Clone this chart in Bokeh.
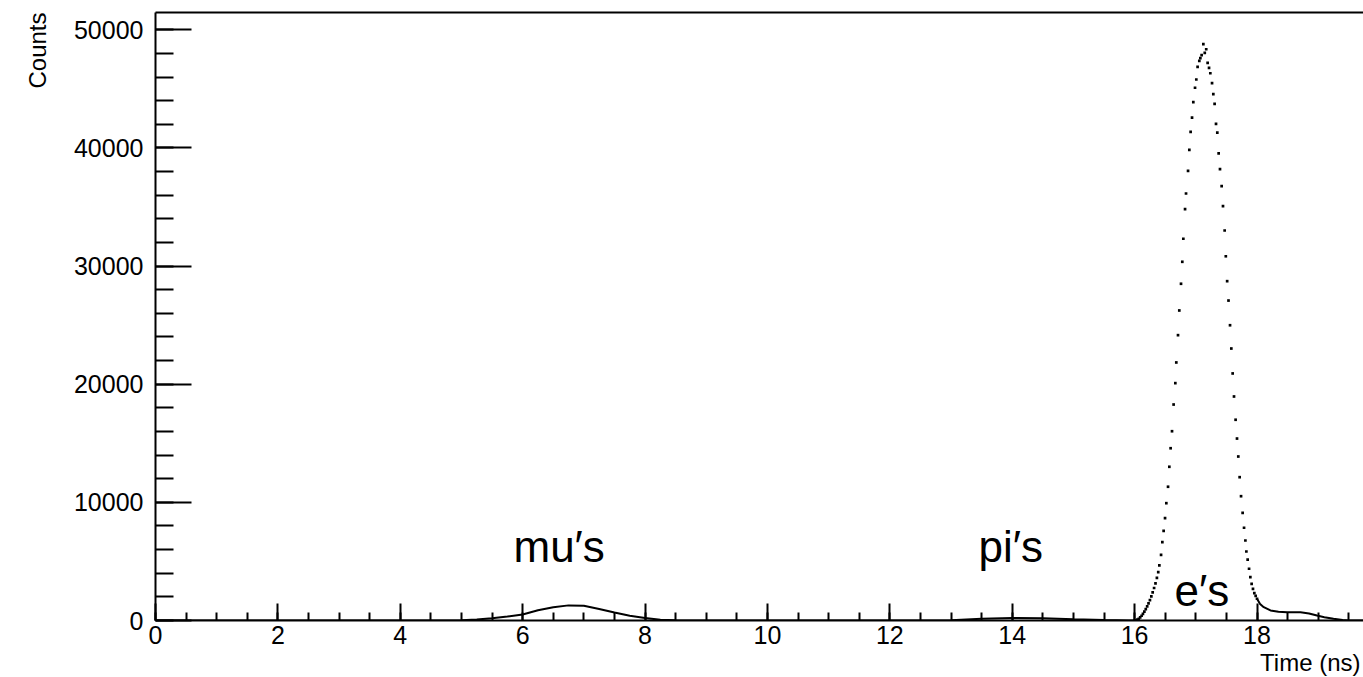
from bokeh.plotting import figure
from bokeh.models import Range1d, SingleIntervalTicker, LinearAxis, FixedTicker, Label, BasicTickFormatter, Title
from bokeh.embed import file_html
from bokeh.resources import INLINE

# ---- data ----
# low-count part (mu's and pi's bumps), 0 .. 16 ns
base_time = [0.0, 4.5, 5.0, 5.25, 5.5, 5.75, 6.0, 6.25, 6.5, 6.75, 7.0, 7.25, 7.5, 7.75,
             8.0, 8.25, 8.5, 8.75, 9.0, 12.5, 13.0, 13.5, 14.0, 14.5, 15.0, 15.5, 15.9, 16.0]
base_counts = [0, 0, 20, 90, 195, 330, 510, 870, 1130, 1280, 1240, 980, 670, 410,
               220, 70, 30, 10, 0, 0, 30, 140, 220, 190, 110, 40, 5, 0]

# electron peak bins (dots)
e_time = [16.000, 16.023, 16.045, 16.068, 16.091, 16.114, 16.136, 16.159, 16.182, 16.205,
          16.227, 16.250, 16.273, 16.295, 16.318, 16.341, 16.364, 16.386, 16.404, 16.432,
          16.453, 16.474, 16.497, 16.518, 16.546, 16.567, 16.588, 16.611, 16.637, 16.665,
          16.681, 16.709, 16.730, 16.758, 16.779, 16.796, 16.824, 16.840, 16.873, 16.894,
          16.915, 16.938, 16.959, 16.987, 17.008, 17.029, 17.057, 17.074, 17.095, 17.123,
          17.146, 17.170, 17.193, 17.216, 17.237, 17.265, 17.286, 17.307, 17.330, 17.351,
          17.373, 17.395, 17.422, 17.444, 17.471, 17.490, 17.512, 17.534, 17.559, 17.580,
          17.602, 17.624, 17.650, 17.673, 17.694, 17.716, 17.739, 17.765, 17.788, 17.810,
          17.826, 17.847, 17.870, 17.891, 17.912, 17.934, 17.956, 17.978, 18.000]
e_counts = [0, 20, 70, 150, 260, 400, 560, 750, 960, 1190,
            1450, 1730, 2040, 2380, 2750, 3150, 3600, 4100, 4660, 5560,
            6630, 7590, 8660, 9930, 11320, 13010, 14580, 16020, 18280, 20090,
            21840, 24150, 26240, 28500, 30360, 32310, 34810, 36140, 38060, 39840,
            41360, 42570, 43870, 45090, 45790, 46860, 47370, 47590, 47850, 48780,
            48050, 48350, 47200, 46780, 46320, 45480, 44550, 43730, 42040, 41300,
            39530, 38200, 36760, 35070, 33010, 30830, 28720, 27080, 24990, 23020,
            20910, 18960, 16990, 15400, 13880, 12130, 10520, 9110, 7850, 6770,
            5840, 5160, 4380, 3670, 3100, 2680, 2310, 2090, 1840]

# tail after the electron peak
tail_time = [18.0, 18.05, 18.11, 18.22, 18.35, 18.49, 18.71, 18.85, 18.98, 19.1, 19.25, 19.4, 19.5, 19.74]
tail_counts = [1840, 1400, 1130, 850, 750, 700, 690, 600, 420, 280, 140, 40, 0, 0]

labels_text = ["mu\u2032s", "pi\u2032s", "e\u2032s"]
labels_x = [5.85, 13.45, 16.65]
labels_y = [6260, 6260, 2540]

x_title = "Time (ns)"
y_title = "Counts"

FONT = "Liberation Sans"

p = figure(width=1363, height=677, output_backend="svg", toolbar_location=None,
           x_range=Range1d(0, 19.74), y_range=Range1d(0, 51460),
           min_border_left=155, min_border_right=0, min_border_top=12, min_border_bottom=57)
p.grid.visible = False
p.outline_line_color = None
p.background_fill_color = "white"
p.border_fill_color = "white"

p.xaxis.ticker = SingleIntervalTicker(interval=2, num_minor_ticks=4)
p.yaxis.ticker = SingleIntervalTicker(interval=10000, num_minor_ticks=5)
p.yaxis.formatter = BasicTickFormatter(use_scientific=False)

for ax in (p.xaxis[0], p.yaxis[0]):
    ax.axis_line_width = 2
    ax.axis_line_color = "black"
    ax.major_tick_line_width = 2
    ax.minor_tick_line_width = 2
    ax.major_tick_out = 0
    ax.minor_tick_out = 0
    ax.major_label_text_font = FONT
    ax.major_label_text_font_size = "25px"
    ax.major_label_text_color = "black"

p.yaxis.major_tick_in = 36
p.yaxis.minor_tick_in = 18
p.yaxis.major_label_standoff = 12
p.xaxis.major_tick_in = 17
p.xaxis.minor_tick_in = 8
p.xaxis.major_label_standoff = 5

p.add_layout(Title(text=x_title, align="right", text_font=FONT, text_font_size="24px",
                   text_font_style="normal", text_color="black", standoff=0, offset=3), "below")
p.add_layout(Title(text=y_title, align="right", text_font=FONT, text_font_size="24px",
                   text_font_style="normal", text_color="black", standoff=39), "left")

top = LinearAxis(ticker=FixedTicker(ticks=[]), axis_line_width=2, major_tick_in=0, major_tick_out=0,
                 minor_tick_in=0, minor_tick_out=0, major_label_text_font_size="0px")
p.add_layout(top, "above")

p.line(base_time, base_counts, line_color="black", line_width=2)
p.line(tail_time, tail_counts, line_color="black", line_width=2)
p.scatter(e_time, e_counts, marker="square", size=2.7, fill_color="black", line_color=None)

for t, x, y in zip(labels_text, labels_x, labels_y):
    p.add_layout(Label(x=x, y=y, text=t, text_font=FONT, text_font_size="44px",
                       text_color="black", text_baseline="alphabetic", text_align="left"))

open("out.html", "w").write(file_html(p, INLINE))
